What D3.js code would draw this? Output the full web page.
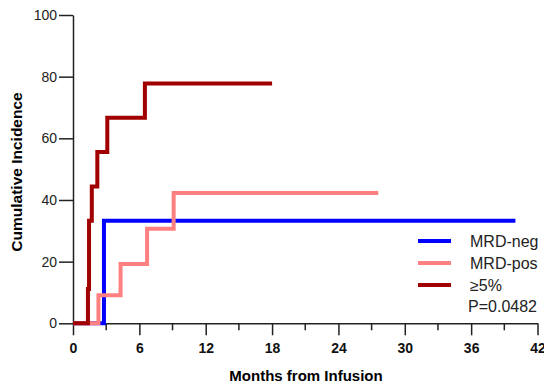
<!DOCTYPE html>
<html>
<head>
<meta charset="utf-8">
<script src="https://cdn.jsdelivr.net/npm/d3@7"></script>
<style>
  body { margin: 0; background: #fff; }
  svg { font-family: Arial, "Liberation Sans", sans-serif; }
</style>
</head>
<body>
<div id="chart"></div>
<script>
/* step data: [month, cumulative incidence %] */
const mrdNeg = [[0, 0], [2.8, 0], [2.8, 33.3], [40, 33.3]];
const mrdPos = [[0, 0], [2.3, 0], [2.3, 9.1], [4.3, 9.1], [4.3, 19.2], [6.7, 19.2],
  [6.7, 30.7], [9.1, 30.7], [9.1, 42.3], [27.6, 42.3]];
const high = [[0, 0], [1.35, 0], [1.35, 11.1], [1.45, 11.1], [1.45, 33.3], [1.7, 33.3],
  [1.7, 44.4], [2.2, 44.4], [2.2, 55.6], [3.1, 55.6], [3.1, 66.7], [6.5, 66.7],
  [6.5, 77.8], [18, 77.8]];

const seriesNames = ["MRD-neg", "MRD-pos", "\u22655%"];
const seriesColors = ["#0000ff", "#ff8080", "#a00000"];
const xTicks = [0, 6, 12, 18, 24, 30, 36, 42];
const xMinor = [3, 9, 15, 21, 27, 33, 39];
const yTicks = [0, 20, 40, 60, 80, 100];
const pValue = "P=0.0482";

const width = 544, height = 385,
  margin = ({ top: 15, right: 6, bottom: 62, left: 73 });

const svg = d3.select("#chart").append("svg")
  .attr("width", width).attr("height", height);

const x = d3.scaleLinear().domain([0, 42]).range([margin.left, 537.5]);
const y = d3.scaleLinear().domain([0, 100]).range([323.3, margin.top]);

/* y axis */
const yAxis = svg.append("g")
  .attr("transform", `translate(${x(0)},0)`)
  .call(d3.axisLeft(y).tickValues(yTicks).tickSize(14).tickPadding(2).tickSizeOuter(0));
yAxis.selectAll("text").attr("font-size", 14).attr("fill", "#222").attr("font-family", "Arial, 'Liberation Sans', sans-serif");
yAxis.select(".domain").attr("stroke", "#222").attr("stroke-width", 1.5);
yAxis.selectAll("line").attr("stroke", "#222").attr("stroke-width", 1.5);

/* x axis */
const xAxis = svg.append("g")
  .attr("transform", `translate(0,${y(0)})`)
  .call(d3.axisBottom(x).tickValues(xTicks).tickSize(12).tickPadding(8).tickSizeOuter(0));
xAxis.selectAll("text").attr("font-size", 14).attr("font-weight", "bold").attr("fill", "#111").attr("font-family", "Arial, 'Liberation Sans', sans-serif");
xAxis.select(".domain").attr("stroke", "#222").attr("stroke-width", 1.5);
xAxis.selectAll("line").attr("stroke", "#222").attr("stroke-width", 1.5);

svg.append("g").selectAll("line").data(xMinor).join("line")
  .attr("x1", d => x(d)).attr("x2", d => x(d))
  .attr("y1", y(0)).attr("y2", y(0) + 7)
  .attr("stroke", "#222").attr("stroke-width", 1.5);

/* axis titles */
svg.append("text")
  .attr("x", 306).attr("y", 381)
  .attr("text-anchor", "middle")
  .attr("font-size", 15).attr("font-weight", "bold")
  .text("Months from Infusion");

svg.append("text")
  .attr("transform", "rotate(-90)")
  .attr("x", -172).attr("y", 21.5)
  .attr("text-anchor", "middle")
  .attr("font-size", 15.5).attr("font-weight", "bold")
  .text("Cumulative Incidence");

/* lines */
const line = d3.line().x(d => x(d[0])).y(d => y(d[1]));
[mrdNeg, mrdPos, high].forEach((s, i) => {
  svg.append("path")
    .datum(s)
    .attr("d", line)
    .attr("fill", "none")
    .attr("stroke", seriesColors[i])
    .attr("stroke-width", 4)
    .attr("stroke-linejoin", "miter");
});

/* legend */
const legend = svg.append("g");
seriesNames.forEach((name, i) => {
  const ly = 241 + i * 22;
  legend.append("line")
    .attr("x1", 418).attr("x2", 451).attr("y1", ly).attr("y2", ly)
    .attr("stroke", seriesColors[i]).attr("stroke-width", 4);
  legend.append("text")
    .attr("x", 470).attr("y", ly + 6)
    .attr("font-size", 16).attr("fill", "#222")
    .text(name);
});
legend.append("text")
  .attr("x", 537).attr("y", 312)
  .attr("text-anchor", "end")
  .attr("font-size", 16).attr("fill", "#222")
  .text(pValue);
</script>
</body>
</html>
